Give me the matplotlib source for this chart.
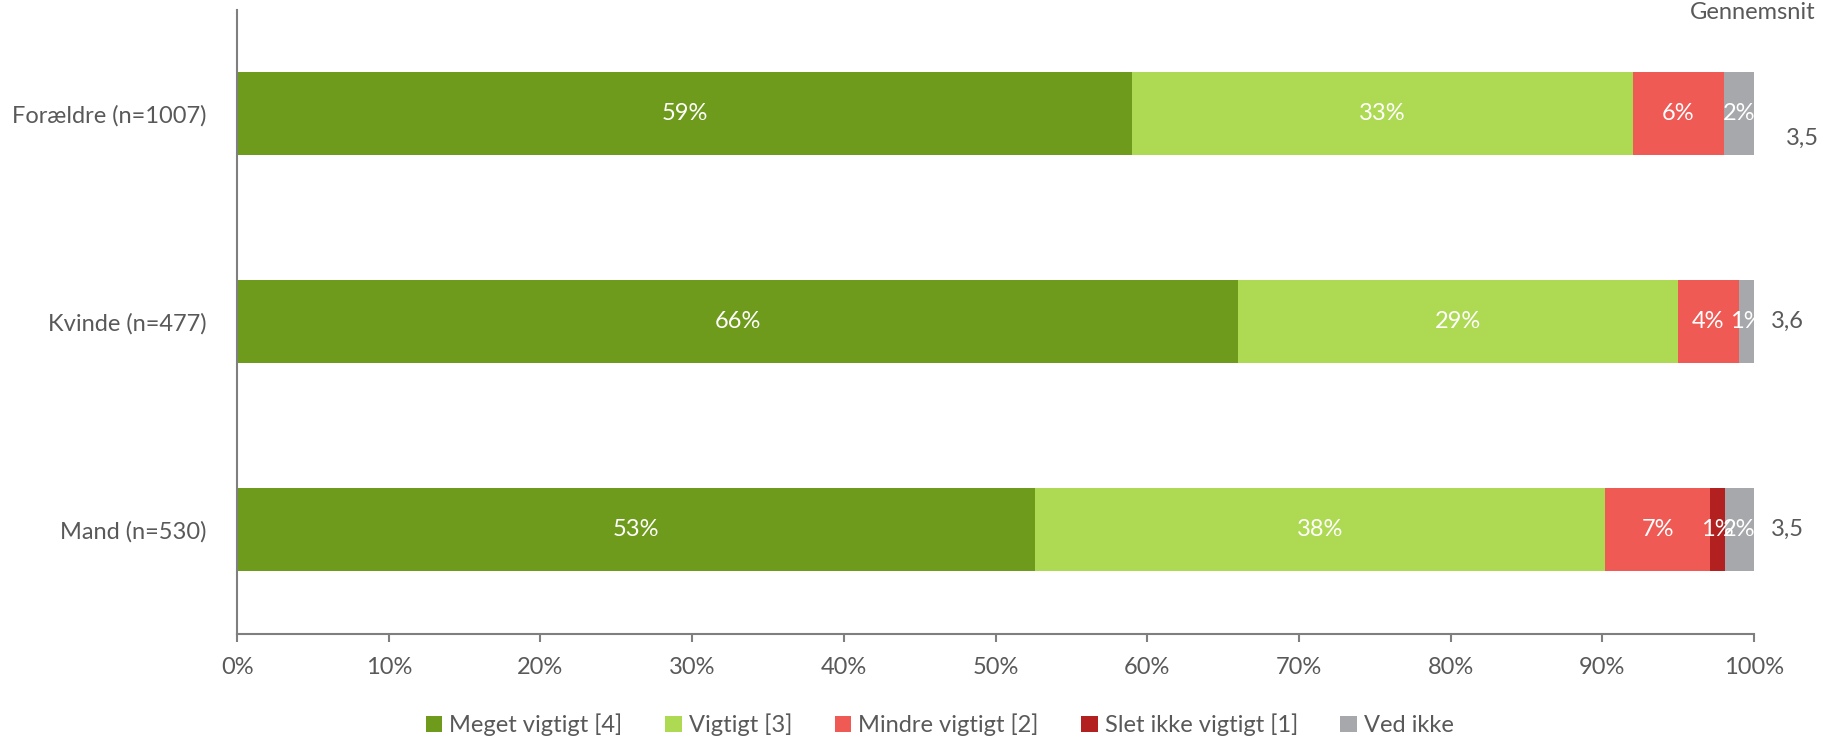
import matplotlib.pyplot as plt
import numpy as np

plt.rcParams["font.family"] = ["Lato", "DejaVu Sans"]

# survey groups, bottom to top
groups = ["Mand (n=530)", "Kvinde (n=477)", "Forældre (n=1007)"]
answers = ["Meget vigtigt [4]", "Vigtigt [3]", "Mindre vigtigt [2]",
           "Slet ikke vigtigt [1]", "Ved ikke"]
shares = {
    "Meget vigtigt [4]": [52.6, 66.0, 59.0],
    "Vigtigt [3]": [37.6, 29.0, 33.0],
    "Mindre vigtigt [2]": [6.9, 4.0, 6.0],
    "Slet ikke vigtigt [1]": [1.0, 0.0, 0.0],
    "Ved ikke": [1.9, 1.0, 2.0],
}
averages = ["3,5", "3,6", "3,5"]
colors = ["#6E9B1B", "#ADDA52", "#F05A55", "#B22020", "#A7A8AB"]
grey = "#595959"
fs = 17

fig = plt.figure(figsize=(18.25, 7.41), dpi=100)
ax = fig.add_axes([0.1299, 0.145, 0.8312, 0.842])

y = np.arange(len(groups))
left = np.zeros(len(groups))
for name, col in zip(answers, colors):
    vals = np.array(shares[name])
    ax.barh(y, vals, left=left, height=0.4, color=col, label=name)
    for yi, v, l in zip(y, vals, left):
        if v > 0:
            ax.text(l + v / 2, yi, f"{v:.0f}%", ha="center", va="center",
                    color="white", fontsize=fs)
    left += vals

ax.set_xlim(0, 100)
ax.set_ylim(-0.5, 2.5)
ax.set_yticks(y)
ax.set_yticklabels(groups)
ax.set_xticks(np.arange(0, 101, 10))
ax.set_xticklabels([f"{t}%" for t in range(0, 101, 10)])
ax.tick_params(axis="y", length=0, pad=22, labelsize=fs, labelcolor=grey)
ax.tick_params(axis="x", length=6, width=1.5, color="#7F7F7F", pad=11,
               labelsize=fs, labelcolor=grey)
for s in ["top", "right"]:
    ax.spines[s].set_visible(False)
for s in ["left", "bottom"]:
    ax.spines[s].set_color("#7F7F7F")
    ax.spines[s].set_linewidth(1.5)

# average score column to the right of the bars
fig.text(0.926, 0.997, "Gennemsnit", ha="left", va="top",
         fontsize=fs, color=grey)
avg_y = [0.0, 0.0, -0.12]
for yi, a, dy in zip(y, averages, avg_y):
    ax.text(102.2 if dy == 0 else 103.2, yi + dy, a, ha="center", va="center",
            fontsize=fs, color=grey, clip_on=False)

fig.legend(loc="lower center", bbox_to_anchor=(0.515, -0.022), ncol=5,
           frameon=False, fontsize=fs, handlelength=0.7, handleheight=0.7,
           handletextpad=0.3, columnspacing=1.8, labelcolor=grey)

plt.savefig("out.png", dpi=100)
